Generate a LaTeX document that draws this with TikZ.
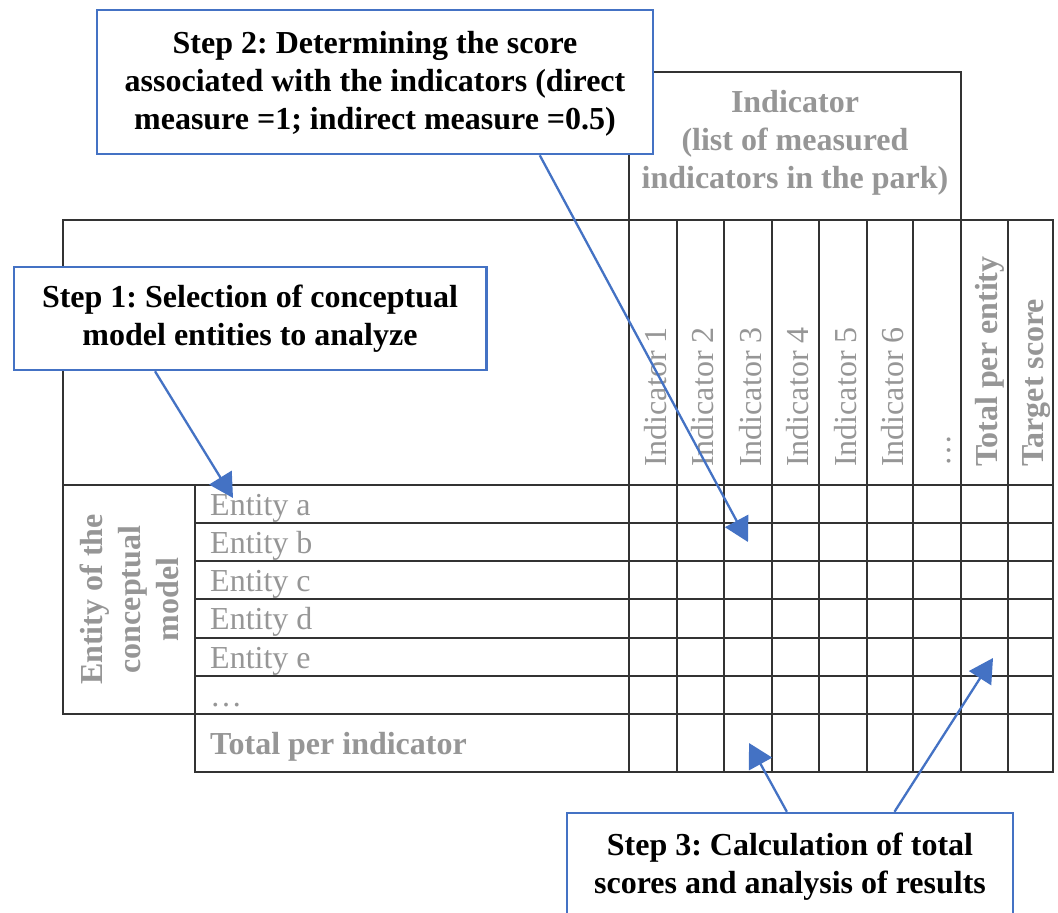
\documentclass[tikz,border=0pt]{standalone}
\usepackage{fontspec}
\setmainfont{Liberation Serif}
\usetikzlibrary{arrows.meta,calc}
\definecolor{stepblue}{RGB}{68,114,196}
\definecolor{txtgray}{RGB}{150,150,150}
\frenchspacing
\begin{document}
\begin{tikzpicture}[x=1pt,y=-1pt,
  grid/.style={line width=1.3pt, draw=black!80, line cap=rect},
  stepbox/.style={draw=stepblue, line width=2.5pt, fill=white, align=center,
    font=\fontsize{32}{38}\selectfont\bfseries, inner sep=0pt},
  arr/.style={draw=stepblue, line width=2.3pt, -{Triangle[length=24pt,width=26pt]}},
  cell/.style={text=txtgray, font=\fontsize{32}{38}\selectfont, inner sep=0pt},
  bcell/.style={text=txtgray, font=\fontsize{32}{38}\selectfont\bfseries, inner sep=0pt},
  vcell/.style={cell, rotate=90, anchor=base west},
  vbcell/.style={bcell, rotate=90, anchor=base west}
]
\useasboundingbox (0,0) rectangle (1058,913);
\clip (0,0) rectangle (1058,913);
\fill[white] (0,0) rectangle (1058,913);

% ---- table lines ----
% header box
\draw[grid] (629,220) -- (629,72) -- (961,72) -- (961,220);
% outer frame and main horizontal lines
\draw[grid] (63,220) -- (1053,220);
\draw[grid] (63,220) -- (63,714);
\draw[grid] (1053,220) -- (1053,772);
\draw[grid] (63,485) -- (1053,485);
\foreach \yy in {523,561,599,638,676} \draw[grid] (195,\yy) -- (1053,\yy);
\draw[grid] (63,714) -- (1053,714);
\draw[grid] (195,772) -- (1053,772);
% vertical lines
\draw[grid] (195,485) -- (195,772);
\draw[grid] (629,220) -- (629,772);
\foreach \xx in {677,724,772,819,867,913,961,1008} \draw[grid] (\xx,220) -- (\xx,772);

% ---- header texts ----
\node[bcell, align=center] (hdr) at (795,143) {Indicator\\(list of measured\\indicators in the park)};
\node[vcell] (i1) at (666,467) {Indicator 1};
\node[vcell] (i2) at (713.5,467) {Indicator 2};
\node[vcell] (i3) at (761,467) {Indicator 3};
\node[vcell] (i4) at (808.5,467) {Indicator 4};
\node[vcell] (i5) at (856,467) {Indicator 5};
\node[vcell] (i6) at (903,467) {Indicator 6};
\node[vcell] (idots) at (950,467) {…};
\node[vbcell] (tpe) at (997.5,467) {Total per entity};
\node[vbcell] (tsc) at (1043.5,467) {Target score};

% ---- row texts ----
\node[bcell, rotate=90, align=center] (ent) at (129,599.5) {Entity of the\\conceptual\\model};
\node[cell, anchor=base west] (ea) at (210,515) {Entity a};
\node[cell, anchor=base west] (eb) at (210,553) {Entity b};
\node[cell, anchor=base west] (ec) at (210,591) {Entity c};
\node[cell, anchor=base west] (ed) at (210,629) {Entity d};
\node[cell, anchor=base west] (ee) at (210,668) {Entity e};
\node[cell, anchor=base west] (edots) at (210,706) {…};
\node[bcell, anchor=base west] (tpi) at (210,754) {Total per indicator};

% ---- step boxes ----
\node[stepbox, minimum width=556pt, minimum height=144pt] (s2) at (375,82) {};
\node[stepbox, draw=none, fill=none] (s2t) at (375,84)
  {Step 2: Determining the score\\associated with the indicators (direct\\measure =1; indirect measure =0.5)};
\node[stepbox, minimum width=472.5pt, minimum height=103pt] (s1) at (250,318.5)
  {Step 1: Selection of conceptual\\model entities to analyze};
\node[stepbox, minimum width=446pt, minimum height=107pt] (s3) at (790,866.5)
  {Step 3: Calculation of total\\scores and analysis of results};

% ---- arrow targets ----
\coordinate (t1) at (233,498);
\coordinate (t2) at (748,542);
\coordinate (t3) at (749,743);
\coordinate (t4) at (993,658);

\draw[arr] ($(s1.south west)!0.30!(s1.south east)$) -- (t1);
\draw[arr] ($(s2.south west)!0.795!(s2.south east)$) -- (t2);
\draw[arr] ($(s3.north west)!0.493!(s3.north east)$) -- (t3);
\draw[arr] ($(s3.north west)!0.733!(s3.north east)$) -- (t4);
\end{tikzpicture}
\end{document}
